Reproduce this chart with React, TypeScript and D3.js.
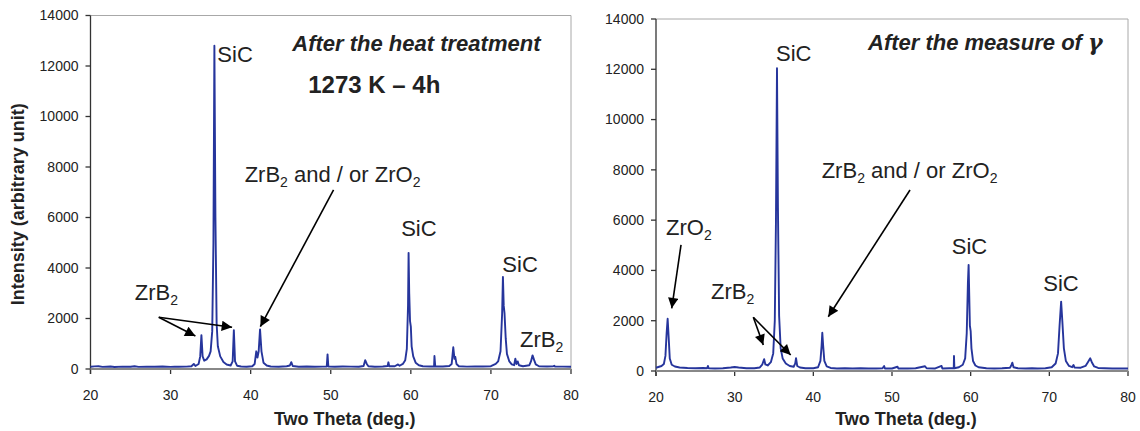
import React from 'react';
import * as d3 from 'd3';

// two theta (deg.) / intensity
const thetaTicks = [20, 30, 40, 50, 60, 70, 80];
const intensityTicks = [0, 2000, 4000, 6000, 8000, 10000, 12000, 14000];

const heatScan: [number, number][] = [
  [20, 90], [20.5, 105], [21, 110], [21.5, 85], [22.5, 100], [23, 80], [24, 95], [25, 90], [25.5, 110],
  [26, 85], [27, 95], [28, 90], [29, 100], [30, 85], [30.5, 95], [31, 90], [32, 95], [32.6, 110],
  [32.9, 200], [33.1, 120], [33.5, 200], [33.7, 500], [33.85, 1340], [34.0, 500], [34.2, 330],
  [34.5, 380], [34.8, 520], [35.0, 700], [35.2, 1500], [35.35, 5000], [35.47, 12800], [35.6, 6000],
  [35.75, 1800], [35.9, 900], [36.2, 500], [36.6, 280], [37.0, 180], [37.5, 140], [37.75, 300],
  [37.9, 1540], [38.05, 300], [38.3, 130], [38.8, 100], [39.5, 90], [40.2, 110], [40.5, 200],
  [40.7, 700], [40.85, 450], [41.0, 700], [41.17, 1570], [41.35, 700], [41.6, 250], [42, 140],
  [42.5, 100], [43.5, 90], [44.5, 110], [44.9, 140], [45.07, 270], [45.25, 120], [46, 90], [47, 100],
  [48, 90], [49, 95], [49.5, 100], [49.6, 580], [49.7, 100], [50.5, 90], [51.5, 100], [52.5, 95],
  [53.5, 90], [54.1, 120], [54.3, 350], [54.5, 200], [54.7, 110], [55.5, 90], [56.5, 100], [57.1, 120],
  [57.2, 265], [57.3, 110], [58.0, 110], [58.4, 180], [58.6, 130], [59.0, 200], [59.3, 350],
  [59.5, 800], [59.65, 2500], [59.72, 4600], [59.8, 3000], [59.9, 1900], [60.0, 1680], [60.1, 900],
  [60.3, 500], [60.6, 250], [61, 150], [61.5, 110], [62.5, 100], [62.9, 100], [62.95, 515],
  [63.05, 100], [64, 100], [64.8, 120], [65.1, 200], [65.3, 860], [65.45, 400], [65.55, 480],
  [65.7, 200], [66, 110], [67, 95], [68, 100], [69, 100], [70, 110], [70.6, 200], [70.9, 300],
  [71.2, 700], [71.4, 2200], [71.5, 3650], [71.6, 2500], [71.7, 2200], [71.85, 1200], [72.0, 600],
  [72.3, 300], [72.6, 180], [72.9, 150], [73.05, 410], [73.2, 200], [73.35, 300], [73.5, 150],
  [74, 110], [74.8, 150], [75.0, 300], [75.2, 540], [75.4, 350], [75.6, 180], [76, 110], [77, 100],
  [77.8, 110], [77.9, 130], [78.0, 100], [79, 95], [80, 90],
];

const gammaScan: [number, number][] = [
  [20, 130], [20.3, 160], [20.7, 200], [21.0, 280], [21.2, 600], [21.35, 1500], [21.48, 2080],
  [21.6, 1400], [21.75, 500], [22.0, 250], [22.4, 180], [23, 140], [24, 120], [25, 110], [26, 120],
  [26.5, 110], [26.6, 200], [26.7, 110], [27.5, 100], [28.5, 110], [29.5, 140], [30, 160], [30.5, 140],
  [31.5, 110], [32.5, 110], [33.2, 140], [33.5, 250], [33.75, 470], [33.9, 260], [34.2, 220],
  [34.6, 350], [34.9, 700], [35.1, 2000], [35.25, 6000], [35.38, 12040], [35.5, 6500], [35.65, 2200],
  [35.85, 900], [36.1, 500], [36.5, 300], [37.0, 200], [37.5, 170], [37.7, 300], [37.8, 510],
  [37.95, 200], [38.3, 140], [39, 110], [40, 110], [40.6, 150], [40.9, 400], [41.05, 1000],
  [41.14, 1520], [41.25, 1000], [41.4, 400], [41.7, 180], [42.2, 120], [43, 100], [44, 110], [45, 100],
  [46, 110], [47, 100], [48, 100], [48.8, 110], [49.0, 200], [49.1, 100], [50, 100], [50.7, 170],
  [50.8, 100], [52, 100], [53, 110], [54.2, 190], [54.4, 110], [55.5, 100], [56.3, 200], [56.4, 100],
  [57.3, 110], [57.85, 110], [57.88, 600], [57.93, 110], [58.5, 150], [59.0, 250], [59.3, 500],
  [59.5, 1500], [59.65, 3500], [59.74, 4220], [59.82, 3000], [59.9, 1800], [60.0, 1590], [60.1, 900],
  [60.3, 400], [60.6, 220], [61, 150], [62, 110], [63, 100], [64, 110], [65, 130], [65.2, 250],
  [65.3, 330], [65.45, 150], [66, 110], [67, 100], [67.8, 110], [68.5, 100], [69.5, 110], [70.3, 150],
  [70.8, 300], [71.1, 700], [71.3, 1800], [71.5, 2760], [71.65, 2000], [71.85, 900], [72.1, 400],
  [72.5, 200], [72.9, 150], [73.07, 240], [73.2, 140], [74, 130], [74.6, 200], [74.9, 350],
  [75.2, 505], [75.4, 350], [75.7, 180], [76.2, 120], [77, 110], [78, 100], [79, 100], [80, 100],
];

// annotations, in data units ("_2" marks a subscript)
const heatLabels = [
  { text: 'SiC', at: [35.84, 12175] },
  { text: 'ZrB_2 and / or ZrO_2', at: [39.25, 7421] },
  { text: 'ZrB_2', at: [25.53, 2734] },
  { text: 'SiC', at: [58.79, 5270] },
  { text: 'SiC', at: [71.43, 3831] },
  { text: 'ZrB_2', at: [73.64, 884] },
];
const heatArrows = [
  { from: [28.52, 2048], to: [33.1, 1307] },
  { from: [28.52, 2048], to: [37.68, 1652] },
  { from: [50.35, 7092], to: [41.21, 1676] },
];
const gammaLabels = [
  { text: 'SiC', at: [35.25, 12331] },
  { text: 'ZrB_2 and / or ZrO_2', at: [41.06, 7665] },
  { text: 'ZrO_2', at: [21.27, 5410] },
  { text: 'ZrB_2', at: [26.99, 2864] },
  { text: 'SiC', at: [57.59, 4642] },
  { text: 'SiC', at: [69.23, 3182] },
];
const gammaArrows = [
  { from: [23.18, 5012], to: [22.0, 2494] },
  { from: [32.37, 2136], to: [33.64, 1034] },
  { from: [32.37, 2136], to: [37.12, 636] },
  { from: [52.29, 7200], to: [41.9, 2160] },
];

const FONT = '"Liberation Sans", Arial, sans-serif';
const INK = '#222';
const TRACE = '#26359c';

const rich = (s: string) =>
  s.split(/_(\d)/).map((part, i) =>
    i % 2 === 1 ? (
      <tspan key={i} dy={5} fontSize={14}>{part}</tspan>
    ) : (
      <tspan key={i} dy={i === 0 ? 0 : -5}>{part}</tspan>
    )
  );

const Panel = ({ scan, box, labels, arrows, yTitle, children }: any) => {
  const x = d3.scaleLinear().domain([20, 80]).range([box.left, box.right]);
  const y = d3.scaleLinear().domain([0, 14000]).range([box.bottom, box.top]);
  const line = d3.line<[number, number]>().x(d => x(d[0])).y(d => y(d[1]));
  const midX = (box.left + box.right) / 2 + 14;

  return (
    <g fontFamily={FONT} fill={INK}>
      <line x1={box.left} x2={box.right} y1={box.top} y2={box.top} stroke="#a8a8a8" />
      <line x1={box.right} x2={box.right} y1={box.top} y2={box.bottom} stroke="#a8a8a8" />
      <line x1={box.left} x2={box.left} y1={box.top} y2={box.bottom + 5} stroke="#333" strokeWidth={1.3} />
      {intensityTicks.map(t => (
        <g key={t}>
          <line x1={box.left - 5} x2={box.left} y1={y(t)} y2={y(t)} stroke="#333" strokeWidth={1.3} />
          <text x={box.left - 12} y={y(t)} dy="0.35em" textAnchor="end" fontSize={14}>{t}</text>
        </g>
      ))}
      {thetaTicks.map(t => (
        <g key={t}>
          <line x1={x(t)} x2={x(t)} y1={box.bottom} y2={box.bottom + 5} stroke="#333" strokeWidth={1.3} />
          <text x={x(t)} y={box.bottom + 31} textAnchor="middle" fontSize={14}>{t}</text>
        </g>
      ))}
      <path d={line(scan) || ''} fill="none" stroke={TRACE} strokeWidth={1.9} strokeLinejoin="round" />
      <line x1={box.left} x2={box.right} y1={box.bottom} y2={box.bottom} stroke="#888" strokeWidth={1.8} />
      <text x={midX} y={425} textAnchor="middle" fontSize={18} fontWeight="bold">Two Theta (deg.)</text>
      {yTitle && (
        <text transform={`translate(24, ${(box.top + box.bottom) / 2 + 12}) rotate(-90)`} textAnchor="middle"
          fontSize={18} fontWeight="bold">{yTitle}</text>
      )}
      {labels.map((l: any, i: number) => (
        <text key={i} x={x(l.at[0])} y={y(l.at[1])} fontSize={22}>{rich(l.text)}</text>
      ))}
      {arrows.map((a: any, i: number) => (
        <line key={i} x1={x(a.from[0])} y1={y(a.from[1])} x2={x(a.to[0])} y2={y(a.to[1])}
          stroke="#000" strokeWidth={1.6} markerEnd="url(#head)" />
      ))}
      {children && children(x, y)}
    </g>
  );
};

export default function App() {
  return (
    <svg width={1140} height={431} style={{ position: 'absolute', left: 0, top: 0, background: '#fff' }}>
      <defs>
        <marker id="head" viewBox="0 0 10 10" refX={10} refY={5} markerWidth={8} markerHeight={6.5}
          markerUnits="strokeWidth" orient="auto">
          <path d="M0,0 L10,5 L0,10 z" fill="#000" />
        </marker>
      </defs>
      <Panel scan={heatScan} box={{ left: 90.5, right: 571, top: 15.5, bottom: 369 }}
        labels={heatLabels} arrows={heatArrows} yTitle="Intensity (arbitrary unit)">
        {(x: any, y: any) => (
          <g fontWeight="bold" fill={INK}>
            <text x={x(45.2)} y={y(12611)} fontSize={22} fontStyle="italic">After the heat treatment</text>
            <text x={x(47.19)} y={y(10947)} fontSize={24}>1273 K – 4h</text>
          </g>
        )}
      </Panel>
      <Panel scan={gammaScan} box={{ left: 656, right: 1128, top: 19, bottom: 371 }}
        labels={gammaLabels} arrows={gammaArrows}>
        {(x: any, y: any) => (
          <text x={x(46.95)} y={y(12749)} fontSize={22} fontStyle="italic" fontWeight="bold" fill={INK}>
            After the measure of <tspan fontFamily='"DejaVu Serif", serif'>γ</tspan>
          </text>
        )}
      </Panel>
    </svg>
  );
}
